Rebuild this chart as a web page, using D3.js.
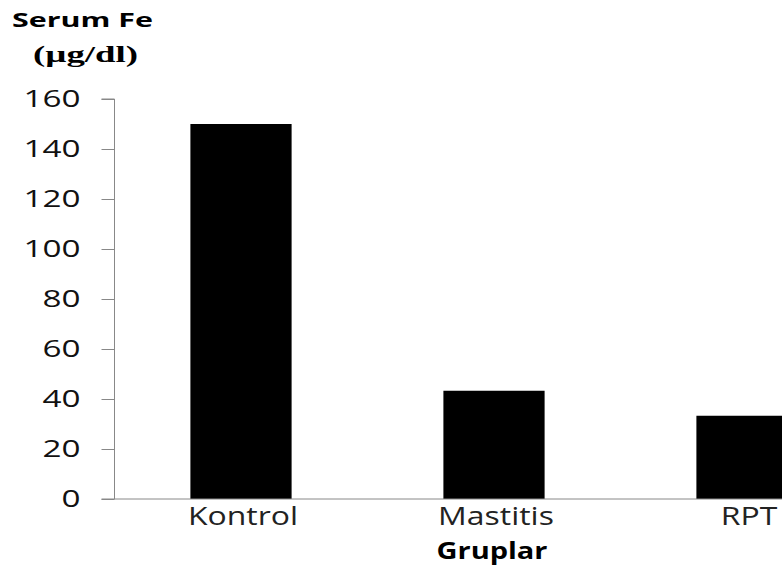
<!DOCTYPE html>
<html>
<head>
<meta charset="utf-8">
<script src="https://cdn.jsdelivr.net/npm/d3@7"></script>
<style>
  html, body { margin: 0; padding: 0; background: #fff; }
  svg { display: block; }
</style>
</head>
<body>
<svg id="chart" width="782" height="574"></svg>
<script>
// Serum iron by group
const groups = ["Kontrol", "Mastitis", "RPT"];
const serumFe = [150, 43.3, 33.3];
const yTicks = [0, 20, 40, 60, 80, 100, 120, 140, 160];

const svg = d3.select("#chart");
const W = 782;
const x0 = 114.5, yBase = 499, yTop = 99;

const x = d3.scaleBand()
  .domain(groups)
  .range([x0, x0 + 759])
  .paddingInner(0.6)
  .paddingOuter(0.3);

const y = d3.scaleLinear().domain([0, 160]).range([yBase, yTop]);

// stretch every text in the selection by one factor k
function stretch(sel, k) {
  sel.each(function () {
    const w = this.getComputedTextLength();
    this.setAttribute("textLength", w * k);
    this.setAttribute("lengthAdjust", "spacingAndGlyphs");
  });
}
// factor that brings the widest text of the selection to width w
function factorFor(sel, w) {
  let m = 0;
  sel.each(function () { m = Math.max(m, this.getComputedTextLength()); });
  return w / m;
}

// bars
svg.append("g")
  .selectAll("rect")
  .data(groups)
  .join("rect")
  .attr("x", d => x(d))
  .attr("width", x.bandwidth())
  .attr("y", (d, i) => y(serumFe[i]))
  .attr("height", (d, i) => yBase - y(serumFe[i]))
  .attr("fill", "#000");

// y axis
const yAxis = svg.append("g")
  .attr("transform", `translate(${x0},0)`)
  .call(d3.axisLeft(y).tickValues(yTicks).tickSize(13).tickPadding(21).tickFormat(d3.format("d")));
yAxis.select(".domain").attr("stroke", "#888").attr("d", `M-13,${yTop}H0V${yBase}`);
yAxis.selectAll(".tick line").attr("stroke", "#888");
const tickText = yAxis.selectAll(".tick text")
  .attr("font-family", "Open Sans")
  .attr("font-size", 24.5)
  .attr("fill", "#111")
  .attr("dy", "0.3em");
stretch(tickText, factorFor(tickText, 57));

// x baseline
svg.append("line")
  .attr("x1", x0 - 13).attr("x2", W)
  .attr("y1", yBase).attr("y2", yBase)
  .attr("stroke", "#888");

// category labels
const cat = svg.append("g")
  .selectAll("text")
  .data(groups)
  .join("text")
  .attr("x", d => x(d) + x.bandwidth() / 2 + 2)
  .attr("y", 525)
  .attr("text-anchor", "middle")
  .attr("font-family", "Open Sans")
  .attr("font-size", 25)
  .attr("fill", "#222")
  .text(d => d);
stretch(cat, factorFor(cat.filter(d => d === "Kontrol"), 110));

// axis titles
const xt = svg.append("text")
  .attr("x", x(groups[1]) + x.bandwidth() / 2 - 2)
  .attr("y", 559)
  .attr("text-anchor", "middle")
  .attr("font-family", "Open Sans")
  .attr("font-weight", "bold")
  .attr("font-size", 24)
  .attr("fill", "#000")
  .text("Gruplar");
stretch(xt, factorFor(xt, 111));

const yt1 = svg.append("text")
  .attr("x", 12).attr("y", 27)
  .attr("font-family", "Open Sans")
  .attr("font-weight", "bold")
  .attr("font-size", 20)
  .attr("fill", "#000")
  .text("Serum Fe");
stretch(yt1, factorFor(yt1, 141));

const yt2 = svg.append("text")
  .attr("x", 33).attr("y", 62)
  .attr("font-family", "Liberation Serif")
  .attr("font-weight", "bold")
  .attr("font-size", 23)
  .attr("fill", "#000")
  .text("(µg/dl)");
stretch(yt2, factorFor(yt2, 105));
</script>
</body>
</html>
